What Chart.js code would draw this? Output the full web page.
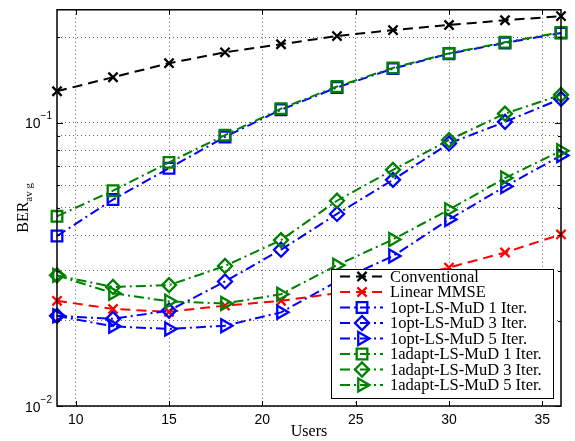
<!DOCTYPE html>
<html>
<head>
<meta charset="utf-8">
<script src="https://cdn.jsdelivr.net/npm/chart.js@4.4.0/dist/chart.umd.min.js"></script>
<style>
html, body { margin: 0; padding: 0; background: #fff; }
#wrap { width: 575px; height: 441px; }
</style>
</head>
<body>
<div id="wrap"><canvas id="berChart"></canvas></div>
<script>
// Data
const users = [9, 12, 15, 18, 21, 24, 27, 30, 33, 36];
const conventional = [0.129, 0.1445, 0.162, 0.177, 0.189, 0.202, 0.212, 0.221, 0.2296, 0.2375];
const linearMmse = [0.0235, 0.022, 0.0215, 0.0226, 0.0235, 0.025, 0.0275, 0.0308, 0.0348, 0.0403];
const opt1 = [0.0398, 0.0535, 0.069, 0.089, 0.111, 0.133, 0.155, 0.175, 0.191, 0.207];
const opt3 = [0.0208, 0.0203, 0.0217, 0.0275, 0.0356, 0.0476, 0.0628, 0.0844, 0.1006, 0.1213];
const opt5 = [0.0208, 0.0191, 0.0187, 0.0192, 0.0214, 0.0275, 0.0338, 0.0455, 0.0595, 0.0765];
const adapt1 = [0.0467, 0.0575, 0.0724, 0.0903, 0.112, 0.134, 0.156, 0.1755, 0.192, 0.208];
const adapt3 = [0.0289, 0.0263, 0.0267, 0.0312, 0.0385, 0.053, 0.0681, 0.0868, 0.1075, 0.1253];
const adapt5 = [0.0289, 0.025, 0.0234, 0.023, 0.0248, 0.0314, 0.0387, 0.0493, 0.0637, 0.0795];

const seriesNames = ['Conventional', 'Linear MMSE', '1opt-LS-MuD 1 Iter.', '1opt-LS-MuD 3 Iter.',
    '1opt-LS-MuD 5 Iter.', '1adapt-LS-MuD 1 Iter.', '1adapt-LS-MuD 3 Iter.', '1adapt-LS-MuD 5 Iter.'];

const xTicks = [10, 15, 20, 25, 30, 35];
const yTicks = [0.01, 0.02, 0.03, 0.04, 0.05, 0.06, 0.07, 0.08, 0.09, 0.1, 0.2];
const yLabelTicks = [0.01, 0.1];

// Styles
const colors = { black: '#000000', red: '#ff0000', blue: '#0000ff', green: '#008000' };
const dashed = [10, 6];
const dashDot = [10, 4, 2, 4];
const serif = '"Liberation Serif", "DejaVu Serif", serif';
const sans = '"Liberation Sans", Arial, sans-serif';

function makeSeries(label, data, color, dash, style, radius, rotation) {
    return {
        label: label,
        data: data,
        borderColor: color,
        backgroundColor: 'rgba(0,0,0,0)',
        borderWidth: 2,
        borderDash: dash,
        pointStyle: style,
        pointRadius: radius,
        pointRotation: rotation || 0,
        pointBorderWidth: 2.3,
        pointBorderColor: color,
        pointBackgroundColor: 'rgba(0,0,0,0)',
        tension: 0,
        fill: false,
        clip: false
    };
}

const datasets = [
    makeSeries(seriesNames[0], conventional, colors.black, dashed, 'crossRot', 6.5),
    makeSeries(seriesNames[1], linearMmse, colors.red, dashed, 'crossRot', 6.5),
    makeSeries(seriesNames[2], opt1, colors.blue, dashDot, 'rect', 7.5),
    makeSeries(seriesNames[3], opt3, colors.blue, dashDot, 'rectRot', 7),
    makeSeries(seriesNames[4], opt5, colors.blue, dashDot, 'triangle', 7.5, 90),
    makeSeries(seriesNames[5], adapt1, colors.green, dashDot, 'rect', 7.5),
    makeSeries(seriesNames[6], adapt3, colors.green, dashDot, 'rectRot', 7),
    makeSeries(seriesNames[7], adapt5, colors.green, dashDot, 'triangle', 7.5, 90)
];
// later series on top, like MATLAB
datasets.forEach((ds, i) => { ds.order = datasets.length - i; });

// Frame, inner ticks, labels and legend
const matlabDecor = {
    id: 'matlabDecor',
    afterDraw(chart) {
        const { ctx, chartArea: a, scales } = chart;
        const x = scales.x, y = scales.y;
        ctx.save();

        // box
        ctx.setLineDash([]);
        ctx.strokeStyle = '#000';
        ctx.lineWidth = 1.5;
        ctx.strokeRect(a.left, a.top, a.right - a.left, a.bottom - a.top);

        // inner tick marks on all sides
        ctx.lineWidth = 1;
        ctx.beginPath();
        xTicks.forEach(v => {
            const px = Math.round(x.getPixelForValue(v)) + 0.5;
            ctx.moveTo(px, a.bottom); ctx.lineTo(px, a.bottom - 5);
            ctx.moveTo(px, a.top); ctx.lineTo(px, a.top + 5);
        });
        yTicks.forEach(v => {
            const py = Math.round(y.getPixelForValue(v)) + 0.5;
            const len = yLabelTicks.includes(v) ? 6 : 3;
            ctx.moveTo(a.left, py); ctx.lineTo(a.left + len, py);
            ctx.moveTo(a.right, py); ctx.lineTo(a.right - len, py);
        });
        ctx.stroke();

        // y tick labels as 10^n
        ctx.fillStyle = '#000';
        ctx.textBaseline = 'middle';
        ctx.textAlign = 'left';
        yLabelTicks.forEach(v => {
            const py = y.getPixelForValue(v);
            const exp = String(Math.round(Math.log10(v))).replace('-', '\u2212');
            ctx.font = '10px ' + sans;
            const ew = ctx.measureText(exp).width;
            ctx.font = '14px ' + sans;
            const bw = ctx.measureText('10').width;
            const right = a.left - 5;
            ctx.fillText('10', right - ew - bw, py + 2);
            ctx.font = '10px ' + sans;
            ctx.fillText(exp, right - ew, py - 6);
        });

        // x axis title
        ctx.textAlign = 'center';
        ctx.font = '16px ' + serif;
        ctx.fillText('Users', (a.left + a.right) / 2, a.bottom + 26);

        // y axis title BER_avg
        ctx.save();
        ctx.translate(a.left - 35, (a.top + a.bottom) / 2);
        ctx.rotate(-Math.PI / 2);
        ctx.textAlign = 'left';
        ctx.textBaseline = 'alphabetic';
        ctx.font = '16px ' + serif;
        const berW = ctx.measureText('BER').width;
        ctx.font = '11px ' + serif;
        const subW = ctx.measureText('av g').width;
        const start = -(berW + subW) / 2;
        ctx.font = '16px ' + serif;
        ctx.fillText('BER', start, 6);
        ctx.font = '11px ' + serif;
        ctx.fillText('av g', start + berW, 10);
        ctx.restore();

        // legend box
        const boxW = 222, boxH = 129;
        const bx = a.right - 8 - boxW, by = a.bottom - 8 - boxH;
        ctx.fillStyle = '#fff';
        ctx.fillRect(bx, by, boxW, boxH);
        ctx.strokeStyle = '#000';
        ctx.lineWidth = 1;
        ctx.strokeRect(Math.round(bx) + 0.5, Math.round(by) + 0.5, boxW, boxH);

        const rowH = 15.5;
        chart.data.datasets.forEach((ds, i) => {
            const ry = by + 7.5 + i * rowH;
            ctx.strokeStyle = ds.borderColor;
            ctx.lineWidth = ds.borderWidth;
            ctx.setLineDash(ds.borderDash);
            ctx.beginPath();
            ctx.moveTo(bx + 9, ry);
            ctx.lineTo(bx + 52, ry);
            ctx.stroke();
            ctx.setLineDash([]);
            ctx.fillStyle = 'rgba(0,0,0,0)';
            ctx.lineWidth = ds.pointBorderWidth;
            Chart.helpers.drawPoint(ctx, {
                pointStyle: ds.pointStyle,
                rotation: ds.pointRotation,
                radius: ds.pointRadius,
                borderWidth: ds.pointBorderWidth
            }, bx + 31, ry);
            ctx.fillStyle = '#000';
            ctx.font = '16.5px ' + serif;
            ctx.textAlign = 'left';
            ctx.textBaseline = 'middle';
            ctx.fillText(ds.label, bx + 59, ry + 1);
        });

        ctx.restore();
    }
};

const gridStyle = { color: 'rgba(0,0,0,0.6)', lineWidth: 1, drawTicks: false };
const borderStyle = { display: false, dash: [1, 3] };

new Chart(document.getElementById('berChart'), {
    type: 'line',
    data: { labels: users, datasets: datasets },
    options: {
        responsive: true,
        maintainAspectRatio: false,
        animation: false,
        events: [],
        layout: { padding: { top: 8, right: 14, left: 0, bottom: 0 } },
        plugins: { legend: { display: false }, tooltip: { enabled: false } },
        scales: {
            x: {
                type: 'linear',
                min: 9,
                max: 36,
                grid: gridStyle,
                border: borderStyle,
                afterBuildTicks: s => { s.ticks = xTicks.map(v => ({ value: v })); },
                afterFit: s => { s.height = 35; },
                ticks: {
                    color: '#000',
                    padding: 6,
                    maxRotation: 0,
                    font: { family: sans, size: 14 },
                    callback: v => String(v)
                }
            },
            y: {
                type: 'logarithmic',
                min: 0.01,
                max: 0.25,
                grid: gridStyle,
                border: borderStyle,
                afterBuildTicks: s => { s.ticks = yTicks.map(v => ({ value: v })); },
                afterFit: s => { s.width = 57; },
                ticks: { display: false }
            }
        }
    },
    plugins: [matlabDecor]
});
</script>
</body>
</html>
